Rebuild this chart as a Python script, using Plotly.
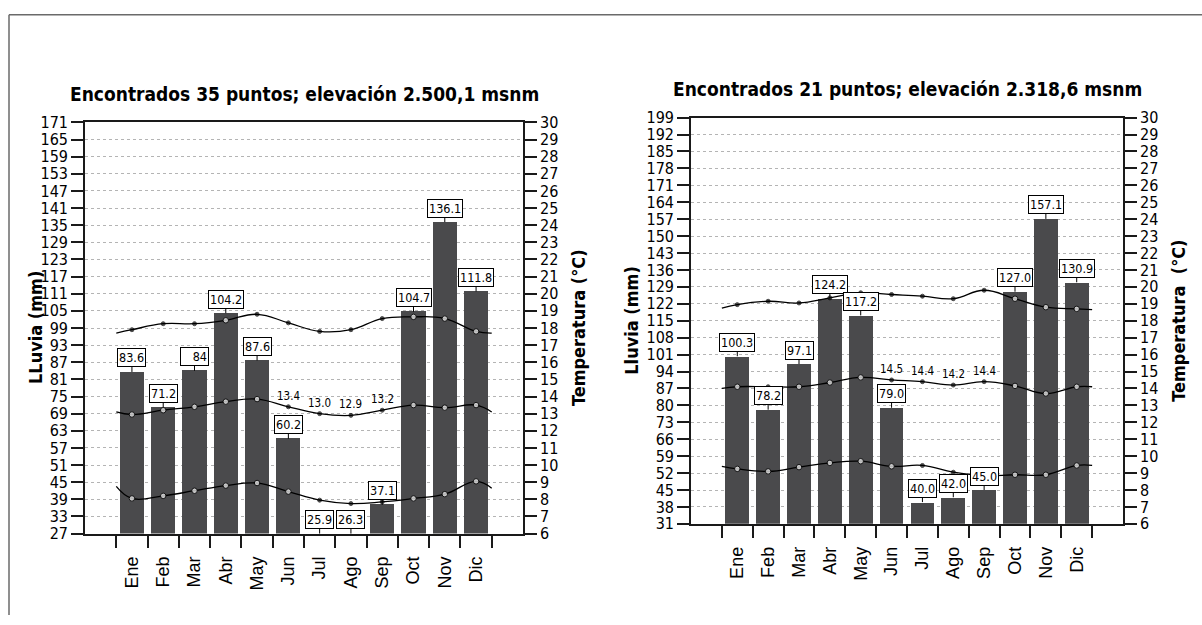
import plotly.graph_objects as go

# ---------------- data ----------------
months = ["Ene", "Feb", "Mar", "Abr", "May", "Jun", "Jul", "Ago", "Sep", "Oct", "Nov", "Dic"]

# station group A
title_a = "Encontrados 35 puntos; elevación 2.500,1 msnm"
rain_a = [83.6, 71.2, 84, 104.2, 87.6, 60.2, 25.9, 26.3, 37.1, 104.7, 136.1, 111.8]
tmax_a = [17.9, 18.25, 18.25, 18.45, 18.8, 18.3, 17.8, 17.9, 18.55, 18.65, 18.55, 17.8]
tmed_a = [12.95, 13.2, 13.4, 13.7, 13.85, 13.4, 13.0, 12.9, 13.2, 13.5, 13.35, 13.5]
tmin_a = [8.05, 8.2, 8.5, 8.8, 8.95, 8.45, 7.95, 7.75, 7.85, 8.05, 8.3, 9.05]
# curve values half a month before Ene and half a month after Dic
tmax_a_ends = [17.7, 17.7]
tmed_a_ends = [13.1, 13.1]
tmin_a_ends = [8.75, 8.65]
rain_ticks_a = list(range(27, 172, 6))

# station group B
title_b = "Encontrados 21 puntos; elevación 2.318,6 msnm"
rain_b = [100.3, 78.2, 97.1, 124.2, 117.2, 79.0, 40.0, 42.0, 45.0, 127.0, 157.1, 130.9]
tmax_b = [18.95, 19.15, 19.05, 19.35, 19.65, 19.55, 19.45, 19.3, 19.8, 19.3, 18.8, 18.7]
tmed_b = [14.1, 14.1, 14.1, 14.35, 14.65, 14.5, 14.4, 14.2, 14.4, 14.15, 13.7, 14.1]
tmin_b = [9.25, 9.1, 9.35, 9.6, 9.7, 9.4, 9.45, 9.05, 8.85, 8.9, 8.9, 9.45]
tmax_b_ends = [18.75, 18.65]
tmed_b_ends = [14.0, 14.1]
tmin_b_ends = [9.4, 9.45]
rain_ticks_b = list(range(31, 200, 7))

temp_ticks = list(range(6, 31))
tmed_labelled = ["Jun", "Jul", "Ago", "Sep"]

# ---------------- styling ----------------
NARROW = "DejaVu Sans Condensed, Liberation Sans Narrow, Arial Narrow, sans-serif"
REGULAR = "Liberation Sans, Arial, sans-serif"
BAR = "#4a4a4c"
INK = "#1a1a1a"
GRID = "#b4b4b4"

W, H = 1202, 625

idx = list(range(len(months)))
bounds = [i - 0.5 for i in range(len(months) + 1)]
xr = [-1.5, len(months) + 0.5]
trange = [temp_ticks[0], temp_ticks[-1]]

fig = go.Figure()
annotations = []


def px_dom(a, b, total, flip=False):
    if flip:
        return [1 - b / total, 1 - a / total]
    return [a / total, b / total]


def add_chart(n, rain, rain_ticks, tmax, tmed, tmin, ends, title, ylab, ylab2,
              xdom, ydom, label_fmt, title_gap, ylab_gap, ylab2_gap):
    # axis ids for this panel
    xb, xt = ("x", "x3") if n == 0 else ("x2", "x4")
    yr, yt = ("y", "y2") if n == 0 else ("y3", "y4")
    rmin, rmax = rain_ticks[0], rain_ticks[-1]

    fig.add_trace(go.Bar(x=idx, y=rain, xaxis=xb, yaxis=yr, width=0.77,
                         marker=dict(color=BAR, line=dict(width=0)),
                         showlegend=False, hoverinfo="skip"))

    for series, end in zip((tmax, tmed, tmin), ends):
        fig.add_trace(go.Scatter(
            x=[bounds[0]] + idx + [bounds[-1]], y=[end[0]] + series + [end[1]],
            xaxis=xt, yaxis=yt, mode="lines",
            line=dict(color="#000000", width=1.3, shape="spline", smoothing=1.2),
            showlegend=False, hoverinfo="skip"))
        # points inside a bar are drawn as white rings, the rest as small dots
        fills, sizes = [], []
        for r, t in zip(rain, series):
            bar_top_t = trange[0] + (r - rmin) / (rmax - rmin) * (trange[1] - trange[0])
            inside = t < bar_top_t
            fills.append("#ffffff" if inside else "#000000")
            sizes.append(5.5 if inside else 4)
        fig.add_trace(go.Scatter(
            x=idx, y=series, xaxis=xt, yaxis=yt, mode="markers",
            marker=dict(size=sizes, color=fills, line=dict(color="#000000", width=1)),
            showlegend=False, hoverinfo="skip"))

    # rain value boxes (short values keep the width of a 4-character box)
    for i, v in enumerate(rain):
        txt = label_fmt(v)
        annotations.append(dict(
            x=i, y=max(v, rmin), xref=xb, yref=yr, text=txt,
            showarrow=True, arrowhead=0, arrowwidth=1, arrowcolor="#000000",
            ax=0, ay=-14, bgcolor="#ffffff", bordercolor="#000000",
            borderwidth=1, borderpad=1, align="right",
            width=25 if len(txt) < 4 else None,
            font=dict(family=NARROW, size=12.5, color="#000000")))

    # mean-temperature labels
    for m in tmed_labelled:
        i = months.index(m)
        annotations.append(dict(
            x=i, y=tmed[i], xref=xt, yref=yt, text=f"{tmed[i]:.1f}",
            showarrow=False, yshift=11, xanchor="center", yanchor="middle",
            font=dict(family=NARROW, size=11.5, color="#000000")))

    # panel title and axis titles
    xc = (xdom[0] + xdom[1]) / 2
    annotations.append(dict(
        x=xc, y=ydom[1] + title_gap / H, xref="paper", yref="paper",
        xanchor="center", yanchor="middle",
        text=f"<b>{title}</b>", showarrow=False,
        font=dict(family=NARROW, size=19, color="#000000")))
    yc = (ydom[0] + ydom[1]) / 2
    annotations.append(dict(
        x=xdom[0] - ylab_gap / W, y=yc, xref="paper", yref="paper",
        xanchor="center", yanchor="middle",
        text=f"<b>{ylab}</b>", textangle=-90, showarrow=False,
        font=dict(family=NARROW, size=18, color="#000000")))
    annotations.append(dict(
        x=xdom[1] + ylab2_gap / W, y=yc, xref="paper", yref="paper",
        xanchor="center", yanchor="middle",
        text=f"<b>{ylab2}</b>", textangle=-90, showarrow=False,
        font=dict(family=NARROW, size=18, color="#000000")))

    ax_common = dict(zeroline=False, linecolor=INK, linewidth=1.6,
                     tickcolor=INK, tickwidth=1.5)
    fig.update_layout(**{
        ("xaxis" if xb == "x" else "xaxis2"): dict(
            domain=xdom, anchor=yr, range=xr, tickmode="array",
            tickvals=idx, ticktext=months, tickangle=-90,
            ticks="outside", ticklen=14, tickcolor="rgba(0,0,0,0)",
            showline=True, mirror=True, showgrid=False, zeroline=False,
            linecolor=INK, linewidth=1.6,
            tickfont=dict(family=REGULAR, size=18, color="#000000")),
        ("xaxis3" if xt == "x3" else "xaxis4"): dict(
            overlaying=xb, anchor=yr, range=xr, tickmode="array",
            tickvals=bounds, ticks="outside", ticklen=13,
            showticklabels=False, showline=False, showgrid=False,
            **ax_common),
        ("yaxis" if yr == "y" else "yaxis3"): dict(
            domain=ydom, anchor=xb, range=[rmin, rmax], tickmode="array",
            tickvals=rain_ticks, ticks="outside", ticklen=12,
            showline=True, showgrid=True, gridcolor=GRID, gridwidth=1,
            griddash="3px,3px",
            tickfont=dict(family=NARROW, size=16, color="#000000"),
            **ax_common),
        ("yaxis2" if yt == "y2" else "yaxis4"): dict(
            overlaying=yr, anchor=xb, side="right", range=trange,
            tickmode="array", tickvals=temp_ticks, ticks="outside", ticklen=12,
            showline=True, showgrid=False,
            tickfont=dict(family=NARROW, size=16, color="#000000"),
            **ax_common),
    })


add_chart(0, rain_a, rain_ticks_a, tmax_a, tmed_a, tmin_a,
          (tmax_a_ends, tmed_a_ends, tmin_a_ends), title_a,
          "LLuvia (mm)", "Temperatura (°C)",
          px_dom(85, 523, W), px_dom(117, 541, H, flip=True),
          lambda v: f"{v}", 29, 49, 56)

add_chart(1, rain_b, rain_ticks_b, tmax_b, tmed_b, tmin_b,
          (tmax_b_ends, tmed_b_ends, tmin_b_ends), title_b,
          "Lluvia (mm)", "Temperatura\u00a0\u00a0(°C)",
          px_dom(691, 1123, W), px_dom(112, 531, H, flip=True),
          lambda v: f"{v:.1f}", 30, 59, 56)

# outer frame (top and left edges)
shapes = [
    dict(type="line", xref="paper", yref="paper", x0=9 / W, x1=1, y0=1 - 6 / H, y1=1 - 6 / H,
         line=dict(color="#6a6a6a", width=1.5)),
    dict(type="line", xref="paper", yref="paper", x0=9 / W, x1=9 / W, y0=0, y1=1 - 6 / H,
         line=dict(color="#6a6a6a", width=1.5)),
]

fig.update_layout(
    width=W, height=H, autosize=False,
    margin=dict(l=0, r=0, t=0, b=0, pad=0),
    paper_bgcolor="#ffffff", plot_bgcolor="#ffffff",
    bargap=0, showlegend=False,
    annotations=annotations, shapes=shapes,
    font=dict(family=NARROW, color="#000000"),
)

fig.write_html("out.html")
